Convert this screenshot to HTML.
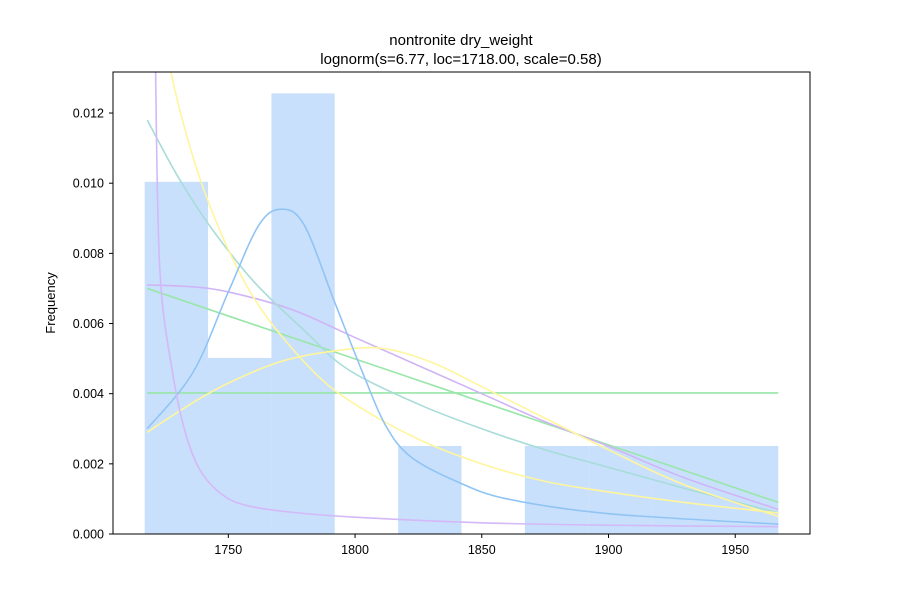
<!DOCTYPE html>
<html><head><meta charset="utf-8"><style>body{margin:0;background:#fff}svg text{font-family:"Liberation Sans",sans-serif;}</style></head>
<body>
<svg id="chart" width="900" height="600" xmlns="http://www.w3.org/2000/svg">
<text x="461" y="45" text-anchor="middle" font-size="15">nontronite dry_weight</text>
<text x="461" y="64" text-anchor="middle" font-size="15">lognorm(s=6.77, loc=1718.00, scale=0.58)</text>
<text transform="translate(55,303) rotate(-90)" text-anchor="middle" font-size="13">Frequency</text>
<defs><clipPath id="clip"><rect x="113" y="72" width="697" height="462"/></clipPath></defs>
<g id="bars" clip-path="url(#clip)"></g>
<g id="lines" clip-path="url(#clip)"></g>
<g id="axes"></g>
<rect x="113" y="72" width="697" height="462" fill="none" stroke="#000" stroke-width="1"/>
</svg>
<script>
const binEdges=[1717,1742,1767,1792,1817,1842,1867,1892,1917,1942,1967];
const binValues=[0.01004,0.00502,0.01256,0,0.00251,0,0.00251,0.00251,0.00251,0.00251];
const xTicks=[1750,1800,1850,1900,1950];
const yTicks=[0,0.002,0.004,0.006,0.008,0.010,0.012];
const yTickLabels=["0.000","0.002","0.004","0.006","0.008","0.010","0.012"];
const blueX=[1718,1736,1750,1762,1771,1780,1792,1803,1812,1822,1840,1860,1900,1967];
const blueY=[0.003,0.0046,0.0069,0.0088,0.00926,0.0088,0.0066,0.0046,0.0031,0.0022,0.0015,0.001,0.00058,0.00028];
const steepPurpleX=[1720.3,1721.3,1723,1728,1733,1739,1748,1758,1775,1800,1850,1900,1967];
const steepPurpleY=[0.02,0.0132,0.0075,0.0046,0.0029,0.0018,0.0011,0.0008,0.00062,0.00048,0.00032,0.00025,0.00021];
const purpleX=[1718,1735,1750,1775,1800,1825,1850,1875,1900,1930,1967];
const purpleY=[0.0071,0.00705,0.0069,0.0064,0.0056,0.0048,0.0040,0.0032,0.0025,0.0016,0.0007];
const yellowX=[1725,1727.3,1735,1742.5,1752.7,1765,1784,1800,1825,1850,1875,1900,1930,1967];
const yellowY=[0.0148,0.0132,0.011,0.0094,0.0077,0.0062,0.0046,0.0037,0.0027,0.0020,0.0015,0.0012,0.0009,0.0006];
const bumpX=[1718,1735,1750,1770,1790,1810,1830,1850,1875,1900,1930,1967];
const bumpY=[0.0029,0.0037,0.0043,0.0049,0.0052,0.0053,0.0049,0.0042,0.0033,0.0024,0.0014,0.0005];
const tealX=[1718,1730,1742.5,1760,1780,1797,1825,1850,1875,1900,1930,1967];
const tealY=[0.0118,0.0102,0.0088,0.0072,0.0058,0.0047,0.0037,0.003,0.0024,0.0019,0.0013,0.0006];
const greenX=[1718,1967];
const greenY=[0.0070,0.0009];
const flatX=[1718,1967];
const flatY=[0.00402,0.00402];
const NS="http://www.w3.org/2000/svg";
const X=v=>113+(v-1704.5)*697/275;
const Y=v=>534-v*(462/0.01317);
const bars=document.getElementById('bars'),lines=document.getElementById('lines'),axes=document.getElementById('axes');
binValues.forEach((v,i)=>{if(!v)return;const r=document.createElementNS(NS,'rect');
r.setAttribute('x',X(binEdges[i]));r.setAttribute('width',X(binEdges[i+1])-X(binEdges[i]));
r.setAttribute('y',Y(v));r.setAttribute('height',534-Y(v));r.setAttribute('fill','#c8e0fc');


bars.appendChild(r);});
function path(xs,ys){const p=xs.map((x,i)=>[X(x),Y(ys[i])]);let d='M'+p[0][0]+','+p[0][1];
for(let i=0;i<p.length-1;i++){const p0=p[i-1]||p[i],p1=p[i],p2=p[i+1],p3=p[i+2]||p2;
const c1=[p1[0]+(p2[0]-p0[0])/6,p1[1]+(p2[1]-p0[1])/6],c2=[p2[0]-(p3[0]-p1[0])/6,p2[1]-(p3[1]-p1[1])/6];
d+=' C'+c1+' '+c2+' '+p2;}return d;}
function line(xs,ys,color,name){const e=document.createElementNS(NS,'path');e.setAttribute('d',path(xs,ys));
e.setAttribute('fill','none');e.setAttribute('stroke',color);e.setAttribute('stroke-width','1.6');


lines.appendChild(e);}
line(flatX,flatY,'#98e6a8','uniform-fit-line');
line(greenX,greenY,'#98e6a8','linear-fit-line');
line(purpleX,purpleY,'#d0b4f6','purple-fit-line');
line(tealX,tealY,'#a8dcd8','teal-fit-line');
line(bumpX,bumpY,'#fff59d','yellow-bump-fit-line');
line(yellowX,yellowY,'#fff59d','yellow-steep-fit-line');
line(blueX,blueY,'#90c4f4','blue-fit-line');
line(steepPurpleX,steepPurpleY,'#d4b8f8','lognorm-fit-line');
xTicks.forEach(t=>{const l=document.createElementNS(NS,'line');l.setAttribute('x1',X(t));l.setAttribute('x2',X(t));l.setAttribute('y1',534);l.setAttribute('y2',538);l.setAttribute('stroke','#000');


axes.appendChild(l);const s=document.createElementNS(NS,'text');s.setAttribute('x',X(t));s.setAttribute('y',554);s.setAttribute('text-anchor','middle');s.setAttribute('font-size','12.5');s.textContent=t;


axes.appendChild(s);});
yTicks.forEach((t,i)=>{const l=document.createElementNS(NS,'line');l.setAttribute('x1',109);l.setAttribute('x2',113);l.setAttribute('y1',Y(t));l.setAttribute('y2',Y(t));l.setAttribute('stroke','#000');


axes.appendChild(l);const s=document.createElementNS(NS,'text');s.setAttribute('x',104);s.setAttribute('y',Y(t)+4.5);s.setAttribute('text-anchor','end');s.setAttribute('font-size','12.5');s.textContent=yTickLabels[i];


axes.appendChild(s);});
</script>
</body></html>
